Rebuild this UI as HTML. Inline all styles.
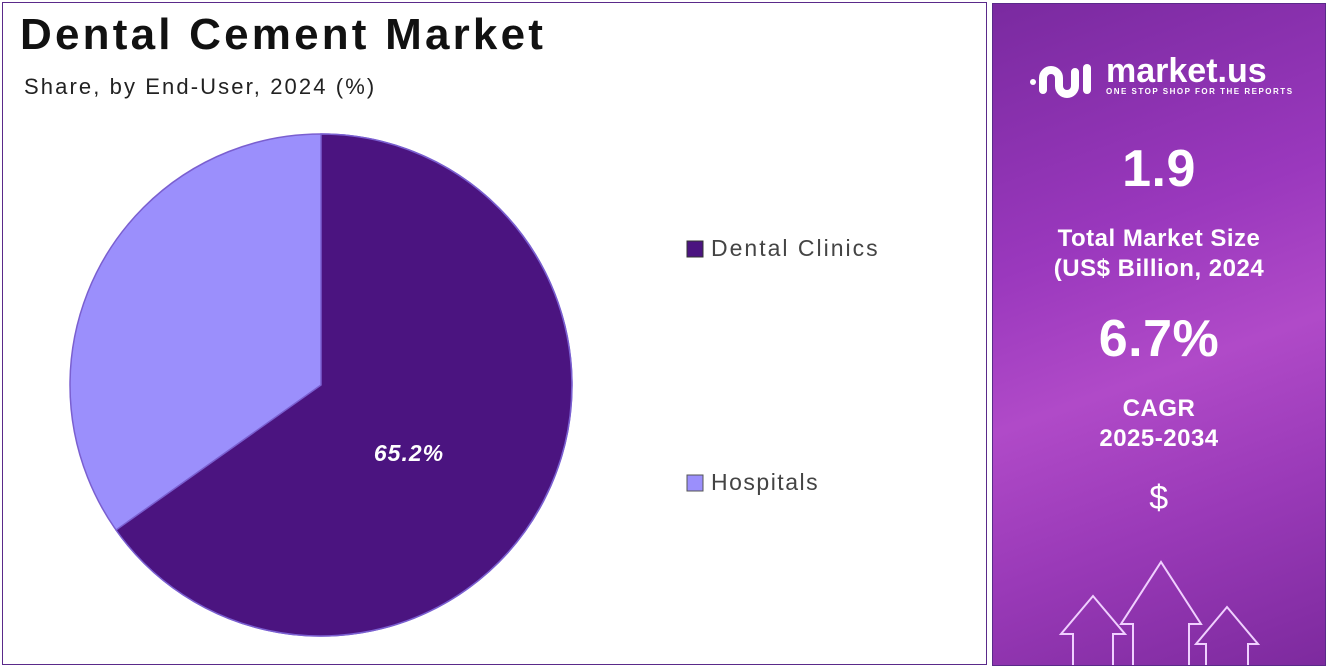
<!DOCTYPE html>
<html><head><style>
body{margin:0;width:1329px;height:669px;background:#fff;position:relative;overflow:hidden;font-family:"Liberation Sans",sans-serif}
.box{position:absolute;left:2px;top:2px;width:985px;height:663px;border:1.5px solid #5a2a8a;box-sizing:border-box}
.panel{position:absolute;left:992px;top:3px;width:334px;height:663px;border:1px solid #5a2a8a;box-sizing:border-box;
background:linear-gradient(160deg,#7a2aa0 0%,#9a38bd 35%,#b04ac8 55%,#9a3ab8 75%,#7d2a9e 100%);overflow:hidden}
.w{position:absolute;width:100%;text-align:center;color:#fff;font-weight:bold;letter-spacing:0.5px}
</style></head><body>
<div class="box"></div>
<div style="position:absolute;left:20px;top:10px;font-size:44px;font-weight:bold;color:#111;letter-spacing:3.2px">Dental Cement Market</div>
<div style="position:absolute;left:24px;top:74px;font-size:22px;color:#222;letter-spacing:2.1px">Share, by End-User, 2024 (%)</div>
<svg style="position:absolute;left:0;top:0" width="990" height="669">
<circle cx="321" cy="385" r="251" fill="#9b8ffc" stroke="#7a5fd0" stroke-width="1.5"/>
<path d="M321 385 L321 134 A251 251 0 1 1 116 530 Z" fill="#4b1480" stroke="#7a5fd0" stroke-width="1.5"/>
<text x="409" y="461" font-size="23" font-weight="bold" font-style="italic" fill="#fff" text-anchor="middle" font-family="Liberation Sans" letter-spacing="1">65.2%</text>
<rect x="687" y="241" width="16" height="16" fill="#4b1480" stroke="#333" stroke-width="1"/>
<text x="711" y="256" font-size="23" fill="#444" font-family="Liberation Sans" letter-spacing="2">Dental Clinics</text>
<rect x="687" y="475" width="16" height="16" fill="#9b8ffc" stroke="#555" stroke-width="1"/>
<text x="711" y="490" font-size="23" fill="#444" font-family="Liberation Sans" letter-spacing="1.5">Hospitals</text>
</svg>
<div class="panel">
<svg style="position:absolute;left:34px;top:50px" width="70" height="50" fill="none" stroke="#fff" stroke-width="8" stroke-linecap="round">
<circle cx="6" cy="28" r="3" fill="#fff" stroke="none"/>
<path d="M16 36 V24 a8 8 0 0 1 16 0 V32 a8 8 0 0 0 16 0 V18"/>
<path d="M60 14 V36"/>
</svg>
<div style="position:absolute;left:113px;top:48px;font-size:34px;font-weight:bold;color:#fff">market.us</div>
<div style="position:absolute;left:113px;top:83px;font-size:8px;font-weight:bold;color:#fff;letter-spacing:1.5px">ONE STOP SHOP FOR THE REPORTS</div>
<div class="w" style="top:135px;font-size:52px">1.9</div>
<div class="w" style="top:220px;font-size:24px;line-height:30px">Total Market Size<br>(US$ Billion, 2024</div>
<div class="w" style="top:305px;font-size:52px">6.7%</div>
<div class="w" style="top:390px;font-size:24px;line-height:30px">CAGR<br>2025-2034</div>
<div class="w" style="top:475px;font-size:34px;font-weight:normal">$</div>
<svg style="position:absolute;left:0;top:540px" width="334" height="125" fill="none" stroke="#f0d0ff" stroke-width="2">
<path d="M80 125 V90 H68 L100 52 L132 90 H120 V125"/>
<path d="M140 125 V80 H128 L168 18 L208 80 H196 V125"/>
<path d="M213 125 V100 H203 L234 63 L265 100 H255 V125"/>
</svg>
</div>
</body></html>
